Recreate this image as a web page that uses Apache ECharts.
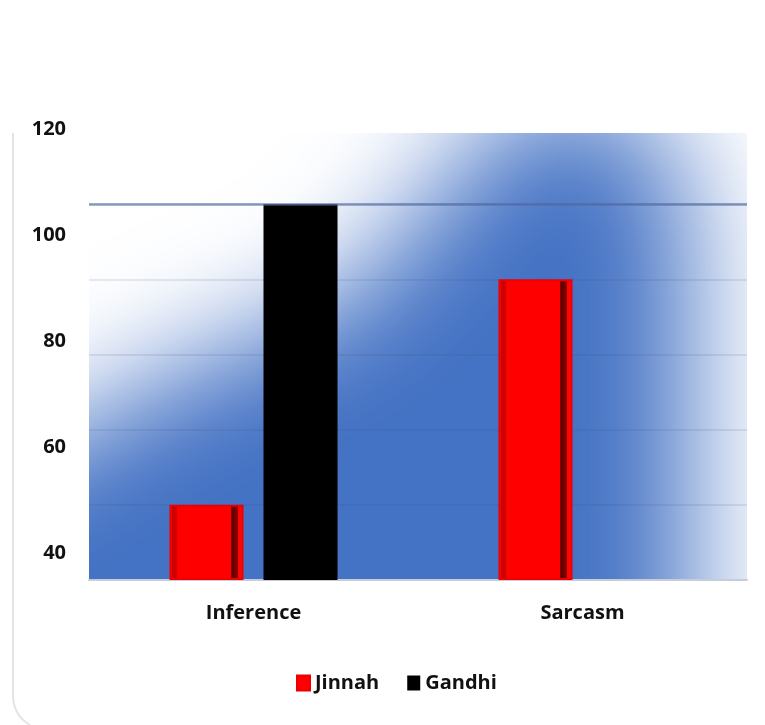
<!DOCTYPE html>
<html>
<head>
<meta charset="utf-8">
<script src="https://cdn.jsdelivr.net/npm/echarts@6/dist/echarts.min.js"></script>
<style>
html,body{margin:0;padding:0;background:#fff;}
#chart{width:765px;height:725px;}
</style>
</head>
<body>
<div id="chart"></div>
<script>
// ---- data ----
const categories = ['Inference', 'Sarcasm'];
const seriesNames = ['Jinnah', 'Gandhi'];
const jinnahValues = [20, 80];
const gandhiValues = [100, null];
const yTickLabels = [40, 60, 80, 100, 120];
const referenceLine = 100;

const chart = echarts.init(document.getElementById('chart'), null, {renderer: 'canvas'});
const FONT = '"Open Sans", "Noto Sans", sans-serif';

const jinnahFill = {
  type: 'linear', x: 0, y: 0, x2: 1, y2: 0,
  colorStops: [
    {offset: 0, color: '#ff1a1a'},
    {offset: 0.03, color: '#ff0000'},
    {offset: 0.04, color: '#c80000'},
    {offset: 0.1, color: '#d80000'},
    {offset: 0.11, color: '#ff0000'},
    {offset: 0.83, color: '#ff0000'},
    {offset: 0.84, color: '#5a0000'},
    {offset: 0.92, color: '#8a0000'},
    {offset: 0.93, color: '#ff0000'},
    {offset: 1, color: '#ff0d0d'}
  ]
};

const OFF = 2000;
function shifted(pts) { return pts.map(p => [p[0] - OFF, p[1]]); }

const option = {
  backgroundColor: '#ffffff',
  animation: false,
  textStyle: {fontFamily: FONT},
  grid: {left: 89, right: 18, top: 129, bottom: 145, containLabel: false},
  legend: {
    left: 291, top: 668,
    itemWidth: 13, itemHeight: 15, itemGap: 28,
    icon: 'rect',
    textStyle: {fontFamily: FONT, fontSize: 20, fontWeight: 'bold', color: '#111', lineHeight: 20},
    data: [
      {name: seriesNames[0], itemStyle: {color: '#ff0000'}},
      {name: seriesNames[1], itemStyle: {color: '#000000'}}
    ]
  },
  xAxis: {
    type: 'category', data: categories, z: 3,
    axisLine: {lineStyle: {color: '#c6ccd8', width: 2}},
    axisTick: {show: false},
    axisLabel: {fontFamily: FONT, fontSize: 20, fontWeight: 'bold', color: '#111', margin: 23}
  },
  yAxis: [
    {
      type: 'value', min: 0, max: 120, interval: 20, z: 3,
      axisLine: {show: false}, axisTick: {show: false}, axisLabel: {show: false},
      splitLine: {show: true, showMinLine: false, showMaxLine: false,
        lineStyle: {color: 'rgba(60,80,120,0.16)', width: 1.5}}
    },
    {
      type: 'value', min: 34.9, max: 120, position: 'left', z: 3,
      axisLine: {show: false}, axisTick: {show: false}, splitLine: {show: false},
      axisLabel: {customValues: yTickLabels, showMaxLabel: true, fontFamily: FONT, fontSize: 20, fontWeight: 'bold', color: '#111', margin: 23}
    }
  ],
  series: [
    {
      name: seriesNames[0], type: 'bar', data: jinnahValues, z: 4,
      barWidth: '22.5%', barGap: '27%',
      itemStyle: {color: jinnahFill, borderColor: '#ee0000', borderWidth: 2}
    },
    {
      name: seriesNames[1], type: 'bar', data: gandhiValues, z: 4,
      barWidth: '22.5%', barGap: '27%',
      itemStyle: {color: '#000000'},
      markLine: {
        silent: true, symbol: 'none', label: {show: false},
        lineStyle: {color: 'rgba(80,105,160,0.65)', width: 2.5, type: 'solid'},
        data: [{yAxis: referenceLine}]
      }
    }
  ],
  graphic: [
    {
      type: 'polygon', silent: true, z: 0,
      shape: {points: shifted([[520,100],[630,100],[690,190],[690,800],[-100,800],[-100,530],[180,370],[345,300],[420,215]])},
      style: {fill: '#4472c4', shadowBlur: 120, shadowColor: '#4472c4', shadowOffsetX: OFF, shadowOffsetY: 0}
    },
    {type: 'rect', silent: true, z: 1, shape: {x: 0, y: 0, width: 765, height: 133}, style: {fill: '#fff'}},
    {type: 'rect', silent: true, z: 1, shape: {x: 0, y: 0, width: 89, height: 725}, style: {fill: '#fff'}},
    {type: 'rect', silent: true, z: 1, shape: {x: 747, y: 0, width: 18, height: 725}, style: {fill: '#fff'}},
    {type: 'rect', silent: true, z: 1, shape: {x: 0, y: 581, width: 765, height: 144}, style: {fill: '#fff'}},
    {type: 'line', silent: true, z: 2, shape: {x1: 13, y1: 133, x2: 13, y2: 695}, style: {stroke: '#e4e4e4', lineWidth: 2}},
    {type: 'bezierCurve', silent: true, z: 2, shape: {x1: 13, y1: 695, cpx1: 13, cpy1: 715, x2: 30, y2: 725}, style: {fill: null, stroke: '#e4e4e4', lineWidth: 2}}
  ]
};
chart.setOption(option);
</script>
</body>
</html>
